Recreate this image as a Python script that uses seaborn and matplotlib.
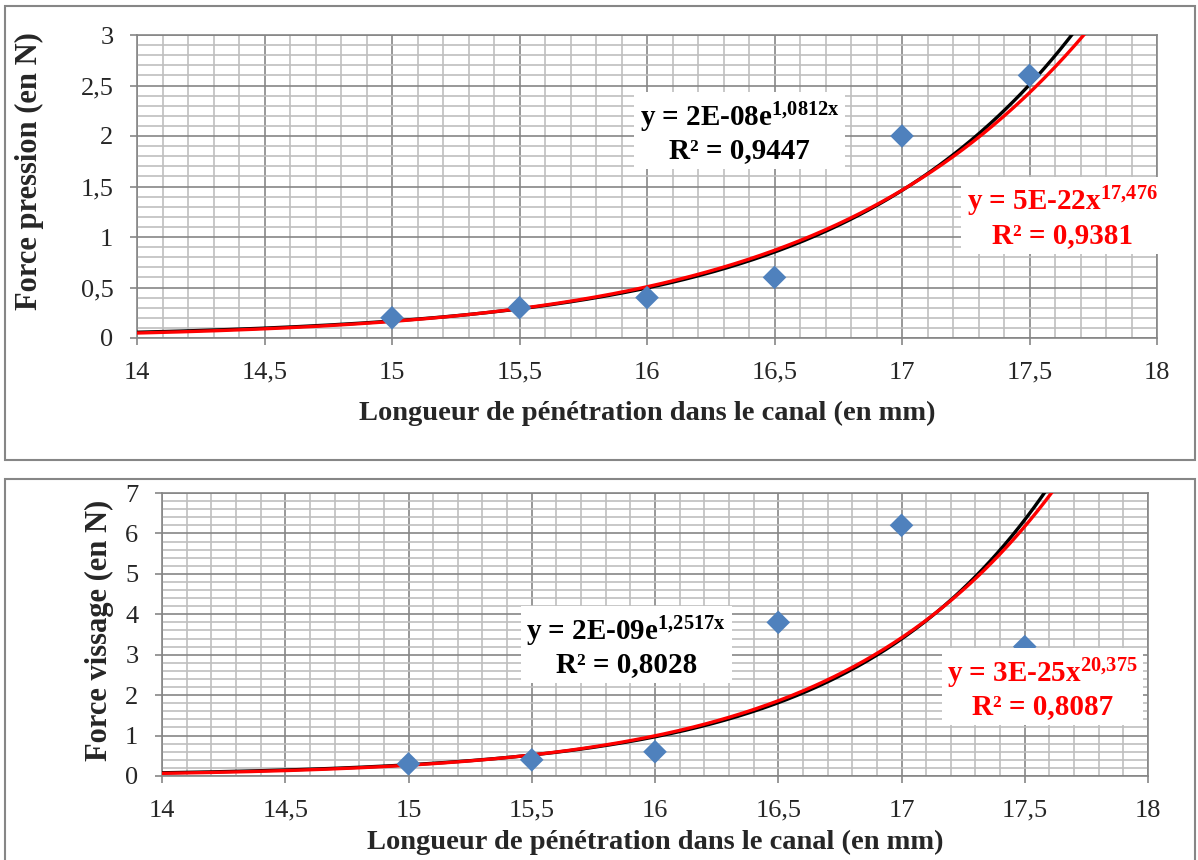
import numpy as np
import pandas as pd
import matplotlib
matplotlib.use('Agg')
import matplotlib.pyplot as plt
import seaborn as sns
from matplotlib.patches import Rectangle
from matplotlib.ticker import FixedLocator, MultipleLocator

# données mesurées
longueur = [15, 15.5, 16, 16.5, 17, 17.5]
force_pression = [0.2, 0.3, 0.4, 0.6, 2.0, 2.6]
force_vissage = [0.3, 0.4, 0.6, 3.8, 6.2, 3.2]

x_ticks = [14, 14.5, 15, 15.5, 16, 16.5, 17, 17.5, 18]
x_labels = ['14', '14,5', '15', '15,5', '16', '16,5', '17', '17,5', '18']
y1_ticks = [0, 0.5, 1, 1.5, 2, 2.5, 3]
y1_labels = ['0', '0,5', '1', '1,5', '2', '2,5', '3']
y2_ticks = [0, 1, 2, 3, 4, 5, 6, 7]
y2_labels = ['0', '1', '2', '3', '4', '5', '6', '7']

eq_expo_1 = 'y = 2E-08e$^{1{,}0812x}$\nR² = 0,9447'
eq_power_1 = 'y = 5E-22x$^{17{,}476}$\nR² = 0,9381'
eq_expo_2 = 'y = 2E-09e$^{1{,}2517x}$\nR² = 0,8028'
eq_power_2 = 'y = 3E-25x$^{20{,}375}$\nR² = 0,8087'

sns.set_style('white')
plt.rcParams['font.family'] = ['Liberation Serif', 'DejaVu Serif']
plt.rcParams['mathtext.fontset'] = 'custom'
plt.rcParams['mathtext.bf'] = 'Liberation Serif:bold'
plt.rcParams['mathtext.rm'] = 'Liberation Serif:bold'
plt.rcParams['mathtext.default'] = 'bf'

BLUE = '#4F81BD'
MAJ = '#868686'
MIN = '#BFBFBF'

fig = plt.figure(figsize=(11.98, 8.60), dpi=100)
W, H = 1198, 860

# cadres des graphiques
for (x0, y0, x1, y1) in [(5, 6, 1195, 460), (5, 479, 1195, 870)]:
    fig.patches.append(Rectangle((x0 / W, 1 - y1 / H), (x1 - x0) / W, (y1 - y0) / H,
                                 transform=fig.transFigure, fill=False,
                                 edgecolor=MAJ, lw=1.5))


def fit_expo(x, y):
    b, a = np.polyfit(x, np.log(y), 1)
    return lambda t: np.exp(a) * np.exp(b * t)


def fit_power(x, y):
    b, a = np.polyfit(np.log(x), np.log(y), 1)
    return lambda t: np.exp(a) * t ** b


def panel(rect, y, yticks, ylabels, ymax, yminor, ylabel, eq1, pos1, eq2, pos2, xlab_y, ylab_pos):
    ax = fig.add_axes(rect)
    ax.set_axisbelow(True)
    xx = np.linspace(14, 18, 400)
    fe = fit_expo(longueur, y)
    fp = fit_power(longueur, y)
    sns.lineplot(x=xx, y=fe(xx), color='black', lw=2.4, ax=ax, zorder=3)
    sns.lineplot(x=xx, y=fp(xx), color='#FF0000', lw=2.4, ax=ax, zorder=4)
    sns.scatterplot(x=longueur, y=y, marker='D', s=145, color=BLUE,
                    edgecolor='none', ax=ax, zorder=5)
    ax.set_xlim(14, 18)
    ax.set_ylim(0, ymax)
    ax.xaxis.set_major_locator(FixedLocator(x_ticks))
    ax.set_xticklabels(x_labels)
    ax.yaxis.set_major_locator(FixedLocator(yticks))
    ax.set_yticklabels(ylabels)
    ax.xaxis.set_minor_locator(MultipleLocator(0.1))
    ax.yaxis.set_minor_locator(MultipleLocator(yminor))
    ax.grid(which='major', color=MAJ, lw=1.2)
    ax.grid(which='minor', color=MIN, lw=1.2)
    ax.tick_params(which='major', direction='out', length=5, width=1.2,
                   color=MAJ, labelsize=19, pad=12, bottom=True, left=True)
    ax.tick_params(which='minor', length=0)
    for s in ax.spines.values():
        s.set_color(MAJ)
        s.set_linewidth(1.2)
    ax.set_xlabel('Longueur de pénétration dans le canal (en mm)',
                  fontsize=20.5, fontweight='bold', va='center')
    ax.xaxis.set_label_coords(0.5, xlab_y)
    ax.set_ylabel(ylabel, fontsize=22, fontweight='bold', va='center')
    ax.yaxis.set_label_coords(*ylab_pos)
    ax.text(pos1[0], pos1[1], eq1, transform=ax.transAxes, ha='center', va='center',
            fontsize=21, fontweight='bold', color='black', linespacing=1.1, zorder=6,
            bbox=dict(facecolor='white', edgecolor='none', pad=4))
    ax.text(pos2[0], pos2[1], eq2, transform=ax.transAxes, ha='center', va='center',
            fontsize=21, fontweight='bold', color='#FF0000', linespacing=1.1, zorder=6,
            bbox=dict(facecolor='white', edgecolor='none', pad=4))
    return ax


panel([137 / W, 1 - 338 / H, 1020 / W, 303 / H], force_pression, y1_ticks, y1_labels, 3, 0.1,
      'Force pression (en N)', eq_expo_1, (0.591, 0.68), eq_power_1, (0.907, 0.40),
      -0.2475, (-0.105, 0.55))
panel([162 / W, 1 - 776 / H, 986 / W, 283 / H], force_vissage, y2_ticks, y2_labels, 7, 0.2,
      'Force vissage (en N)', eq_expo_2, (0.471, 0.459), eq_power_2, (0.893, 0.311),
      -0.233, (-0.063, 0.516))

fig.savefig('out.png', dpi=100)
